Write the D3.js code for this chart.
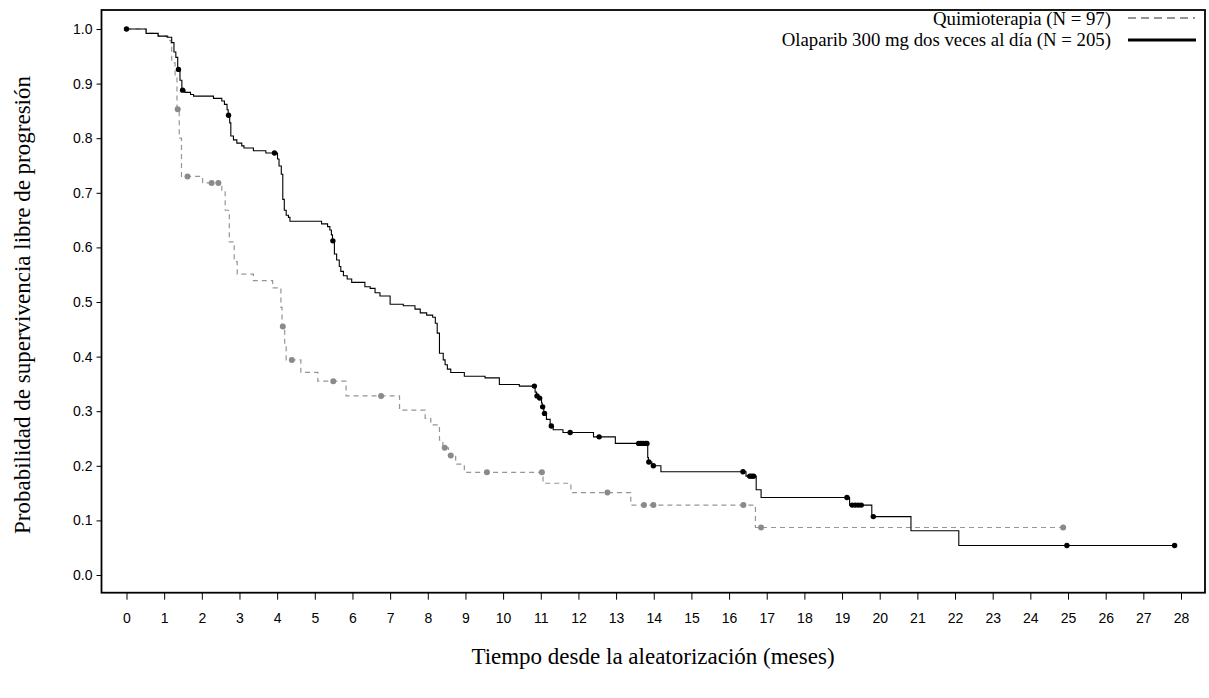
<!DOCTYPE html>
<head>
  <meta charset="utf-8">
  <title>Supervivencia libre de progresión</title>
  <script src="https://d3js.org/d3.v7.min.js"></script>
  <style>
    body { margin: 0; background: #fff; }
    .tick text { font-family: "Liberation Sans", Arial, sans-serif; font-size: 14px; fill: #000; }
    .legendtext { font-family: "Liberation Serif", "Times New Roman", serif; font-size: 18.8px; fill: #000; }
    .title { font-family: "Liberation Serif", "Times New Roman", serif; font-size: 23px; fill: #000; }
  </style>
</head>
<body>
<svg width="1209" height="698"></svg>
<script>
  // Olaparib: step times (months) and survival after each step
  var olapT = [0, 0.52, 0.84, 1.08, 1.20, 1.26, 1.31, 1.36, 1.42, 1.47, 1.55, 1.70, 1.78, 2.31, 2.53, 2.60,
    2.67, 2.70, 2.74, 2.77, 2.84, 2.93, 3.06, 3.12, 3.37, 3.70, 4.01, 4.05, 4.11, 4.15, 4.19, 4.24, 4.30,
    4.34, 5.18, 5.34, 5.40, 5.44, 5.47, 5.52, 5.58, 5.65, 5.69, 5.76, 5.86, 5.98, 6.33, 6.47, 6.60, 6.73,
    7.00, 7.35, 7.66, 7.80, 7.97, 8.13, 8.20, 8.25, 8.31, 8.41, 8.46, 8.52, 8.61, 8.97, 9.52, 9.90, 10.43,
    10.85, 10.89, 10.95, 11.02, 11.04, 11.08, 11.15, 11.25, 11.33, 11.59, 12.40, 12.98, 13.84, 13.86,
    13.95, 14.19, 16.45, 16.72, 16.85, 19.20, 19.79, 20.83, 22.10];
  var olapS = [1.0, 0.992, 0.987, 0.985, 0.975, 0.958, 0.948, 0.926, 0.906, 0.888, 0.884, 0.880, 0.877,
    0.873, 0.868, 0.862, 0.852, 0.842, 0.828, 0.804, 0.797, 0.791, 0.786, 0.782, 0.777, 0.773, 0.762,
    0.749, 0.734, 0.688, 0.668, 0.659, 0.655, 0.648, 0.643, 0.638, 0.632, 0.623, 0.612, 0.588, 0.577,
    0.565, 0.556, 0.548, 0.542, 0.536, 0.528, 0.525, 0.517, 0.511, 0.496, 0.493, 0.487, 0.480, 0.476,
    0.472, 0.461, 0.443, 0.406, 0.394, 0.385, 0.377, 0.371, 0.364, 0.361, 0.349, 0.346, 0.335, 0.328,
    0.324, 0.315, 0.308, 0.296, 0.285, 0.273, 0.266, 0.261, 0.253, 0.241, 0.215, 0.207, 0.200, 0.189,
    0.181, 0.156, 0.142, 0.128, 0.107, 0.081, 0.054];
  var olapEnd = 27.83;
  var olapCens = [0, 1.38, 1.49, 2.71, 3.93, 5.48, 10.83, 10.90, 10.97, 11.05, 11.10, 11.28, 11.78, 12.55,
    13.60, 13.66, 13.72, 13.78, 13.82, 13.87, 13.99, 16.37, 16.55, 16.60, 16.65, 19.13, 19.27, 19.35,
    19.43, 19.51, 19.83, 24.97, 27.83];

  // Quimioterapia
  var quimT = [0, 0.52, 0.84, 1.10, 1.18, 1.20, 1.29, 1.34, 1.40, 1.46, 2.02, 2.53, 2.62, 2.73, 2.86,
    2.94, 3.37, 3.88, 4.10, 4.13, 4.20, 4.24, 4.63, 5.08, 5.83, 7.25, 7.93, 8.08, 8.31, 8.40, 8.55, 8.74,
    8.97, 11.06, 11.80, 13.39, 16.70];
  var quimS = [1.0, 0.992, 0.987, 0.979, 0.969, 0.938, 0.913, 0.853, 0.80, 0.730, 0.718, 0.705, 0.668,
    0.610, 0.574, 0.551, 0.539, 0.526, 0.490, 0.455, 0.420, 0.394, 0.371, 0.355, 0.328, 0.302, 0.287,
    0.275, 0.247, 0.233, 0.219, 0.203, 0.188, 0.168, 0.151, 0.128, 0.087];
  var quimEnd = 24.87;
  var quimCens = [1.36, 1.62, 2.26, 2.44, 4.15, 4.39, 5.49, 6.76, 8.45, 8.61, 9.57, 11.03, 12.77, 13.74,
    13.99, 16.38, 16.85, 24.87];

  var xTicks = d3.range(0, 29);
  var yTicks = d3.range(0, 11).map(function(i) { return i / 10; });

  var svg = d3.select('svg');
  var frame = {left: 101.5, right: 1205, top: 10, bottom: 592.7};

  var x = d3.scaleLinear().domain([0, 28]).range([126.5, 1181]);
  var y = d3.scaleLinear().domain([0, 1]).range([575, 29]);

  // axes
  var xAxis = d3.axisBottom(x).tickValues(xTicks).tickSize(7).tickPadding(13).tickFormat(d3.format('d'));
  svg.append('g')
    .attr('transform', 'translate(0,' + frame.bottom + ')')
    .call(xAxis)
    .call(function(g) { g.select('.domain').remove(); });

  var yAxis = d3.axisLeft(y).tickValues(yTicks).tickSize(5).tickPadding(4).tickFormat(d3.format('.1f'));
  svg.append('g')
    .attr('transform', 'translate(' + frame.left + ',0)')
    .call(yAxis)
    .call(function(g) { g.select('.domain').remove(); });

  svg.selectAll('.tick line').attr('stroke', '#000');

  // frame
  svg.append('rect')
    .attr('x', frame.left).attr('y', frame.top)
    .attr('width', frame.right - frame.left).attr('height', frame.bottom - frame.top)
    .attr('fill', 'none').attr('stroke', '#000').attr('stroke-width', 1.8);

  function stepPoints(ts, ss, end) {
    var pts = ts.map(function(t, i) { return [t, ss[i]]; });
    pts.push([end, ss[ss.length - 1]]);
    return pts;
  }
  function survAt(ts, ss, t) {
    var i = d3.bisectRight(ts, t) - 1;
    return ss[Math.max(i, 0)];
  }

  var line = d3.line()
    .curve(d3.curveStepAfter)
    .x(function(d) { return x(d[0]); })
    .y(function(d) { return y(d[1]); });

  svg.append('path')
    .datum(stepPoints(quimT, quimS, quimEnd))
    .attr('d', line)
    .attr('fill', 'none')
    .attr('stroke', '#959595')
    .attr('stroke-width', 1.2)
    .attr('stroke-dasharray', '5,4');

  svg.append('path')
    .datum(stepPoints(olapT, olapS, olapEnd))
    .attr('d', line)
    .attr('fill', 'none')
    .attr('stroke', '#000')
    .attr('stroke-width', 1.1);

  svg.append('g').selectAll('circle')
    .data(quimCens)
    .enter().append('circle')
    .attr('cx', function(d) { return x(d); })
    .attr('cy', function(d) { return y(survAt(quimT, quimS, d)); })
    .attr('r', 3)
    .attr('fill', '#8a8a8a');

  svg.append('g').selectAll('circle')
    .data(olapCens)
    .enter().append('circle')
    .attr('cx', function(d) { return x(d); })
    .attr('cy', function(d) { return y(survAt(olapT, olapS, d)); })
    .attr('r', 2.7)
    .attr('fill', '#000');

  // legend
  var legend = svg.append('g');
  legend.append('text').attr('class', 'legendtext')
    .attr('x', 1111).attr('y', 25).attr('text-anchor', 'end')
    .text('Quimioterapia (N = 97)');
  legend.append('text').attr('class', 'legendtext')
    .attr('x', 1111).attr('y', 46).attr('text-anchor', 'end')
    .text('Olaparib 300 mg dos veces al día (N = 205)');
  legend.append('line')
    .attr('x1', 1128).attr('x2', 1195).attr('y1', 18).attr('y2', 18)
    .attr('stroke', '#959595').attr('stroke-width', 2).attr('stroke-dasharray', '8,5');
  legend.append('line')
    .attr('x1', 1128).attr('x2', 1196).attr('y1', 40).attr('y2', 40)
    .attr('stroke', '#000').attr('stroke-width', 3.2);

  // axis titles
  svg.append('text').attr('class', 'title')
    .attr('x', 653).attr('y', 664).attr('text-anchor', 'middle')
    .text('Tiempo desde la aleatorización (meses)');
  svg.append('text').attr('class', 'title')
    .attr('transform', 'translate(30,305) rotate(-90)')
    .attr('text-anchor', 'middle')
    .text('Probabilidad de supervivencia libre de progresión');
</script>
</body>
